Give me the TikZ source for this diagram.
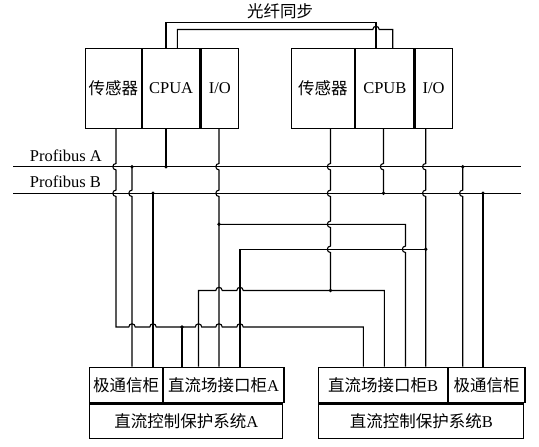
\documentclass[tikz,border=0pt]{standalone}
\usepackage{fontspec}
\setmainfont{Liberation Serif}
\newfontfamily\cjk{Noto Sans CJK SC}
\usepackage{tikz}
\usetikzlibrary{positioning,calc}
% wire crossings: vertical hop (bulges left), horizontal hop (bulges up)
\newcommand{\vhop}[2]{-- ($(#1|-#2)+(0,-3.2)$) arc[start angle=270,end angle=90,radius=3.2]}
\newcommand{\hhop}[2]{-- ($(#1|-#2)+(-3.2,0)$) arc[start angle=180,end angle=360,radius=3.2]}

\begin{document}
\begin{tikzpicture}[
    x=1pt, y=-1pt,
    line width=1.1pt,
    txt/.style={font=\fontsize{16.5}{19}\selectfont},
    cell/.style={draw, txt, inner sep=0pt, line width=1.1pt},
    topcell/.style={cell, minimum height=80pt},
    rowcell/.style={cell, minimum height=35.6pt},
    syscell/.style={cell, minimum height=34.2pt},
    dot/.style={circle, fill, inner sep=0pt, minimum size=3.8pt},
    wire/.style={line width=1.1pt}
]
\useasboundingbox (0,0) rectangle (539,447);
% wire columns and levels
\foreach \n/\x in {a1/116, a2/166, a3/219, p1/132, p2/153, d1/182, d2/198.5, d4/240,
                   b1/330.5, b2/383.5, b3/425.7, e1/363.3, e2/384.3, e3/405.5, q1/462.7, q2/483,
                   f1/166, f2/177.3, f3/376, f4/392.7}
  \coordinate (\n) at (\x,0);
\coordinate (paW) at (13,166.7);  \coordinate (paE) at (521,166.7);
\coordinate (pbW) at (13,193.3);  \coordinate (pbE) at (521,193.3);
\coordinate (h1) at (0,224.3);
\coordinate (h2) at (0,249.3);
\coordinate (h3) at (0,290.5);
\coordinate (h4) at (0,327);
\coordinate (fo) at (0,22.7);
\coordinate (fi) at (0,29.5);
% Station A
\node[topcell, minimum width=55.7pt, anchor=north west] (sensA) at (85,48) {\cjk 传感器};
\node[topcell, minimum width=57.6pt, right=0pt of sensA] (cpuA) {CPUA};
\node[topcell, minimum width=37.7pt, right=0pt of cpuA] (ioA) {I/O};
% Station B
\node[topcell, minimum width=63.3pt, anchor=north west] (sensB) at (290.7,48) {\cjk 传感器};
\node[topcell, minimum width=58.3pt, right=0pt of sensB] (cpuB) {CPUB};
\node[topcell, minimum width=37pt, right=0pt of cpuB] (ioB) {I/O};
% Fibre sync
\node[txt] (sync) at (280,11) {\cjk 光纤同步};
\draw[wire] (cpuA.north -| f1) -- (f1|-fo) -- (f3|-fo) -- (cpuB.north -| f3);
\draw[wire] (cpuA.north -| f2) -- (f2|-fi) \hhop{f3}{fi} -- (f4|-fi) -- (cpuB.north -| f4);
% Buses
\node[txt, anchor=west] (lblA) at (26,155.5) {Profibus A};
\node[txt, anchor=west] (lblB) at (26,182) {Profibus B};
\draw[wire] (paW) -- (paE);
\draw[wire] (pbW) -- (pbE);
% Control system A
\node[rowcell, minimum width=72.4pt, anchor=north west] (txA) at (89.3,366.7) {\cjk 极通信柜};
\node[rowcell, minimum width=120.6pt, right=0pt of txA] (jkA) {{\cjk 直流场接口柜}A};
\node[syscell, minimum width=193pt, anchor=north west] (sysA) at (txA.south west) {{\cjk 直流控制保护系统}A};
% Control system B
\node[rowcell, minimum width=128.4pt, anchor=north west] (jkB) at (318.3,366.7) {{\cjk 直流场接口柜}B};
\node[rowcell, minimum width=76.6pt, right=0pt of jkB] (txB) {\cjk 极通信柜};
\node[syscell, minimum width=205pt, anchor=north west] (sysB) at (jkB.south west) {{\cjk 直流控制保护系统}B};
% Wires from station A
\draw[wire] (sensA.south -| a1) \vhop{a1}{paW} \vhop{a1}{pbW} -- (a1|-h4)
  \hhop{p1}{h4} \hhop{p2}{h4} \hhop{d2}{h4} \hhop{a3}{h4} \hhop{d4}{h4} -- (e1|-h4) -- (jkB.north -| e1);
\draw[wire] (d1|-h4) -- (jkA.north -| d1);
\draw[wire] (cpuA.south -| a2) -- (a2|-paW);
\draw[wire] (ioA.south -| a3) \vhop{a3}{paW} \vhop{a3}{pbW} -- (jkA.north -| a3);
\draw[wire] (a3|-h1) -- (e3|-h1) \vhop{e3}{h2} -- (jkB.north -| e3);
\draw[wire] (jkA.north -| d4) -- (d4|-h2) -- (b3|-h2);
\draw[wire] (jkA.north -| d2) -- (d2|-h3) \hhop{a3}{h3} \hhop{d4}{h3} -- (e2|-h3) -- (jkB.north -| e2);
\draw[wire] (p1|-paW) \vhop{p1}{pbW} -- (txA.north -| p1);
\draw[wire] (p2|-pbW) -- (txA.north -| p2);
% Wires from station B
\draw[wire] (sensB.south -| b1) \vhop{b1}{paW} \vhop{b1}{pbW} \vhop{b1}{h1} \vhop{b1}{h2} -- (b1|-h3);
\draw[wire] (cpuB.south -| b2) \vhop{b2}{paW} -- (b2|-pbW);
\draw[wire] (ioB.south -| b3) \vhop{b3}{paW} \vhop{b3}{pbW} -- (jkB.north -| b3);
\draw[wire] (q1|-paW) \vhop{q1}{pbW} -- (txB.north -| q1);
\draw[wire] (q2|-pbW) -- (txB.north -| q2);
% Junctions
\foreach \p in {a2|-paW, p1|-paW, p2|-pbW, d1|-h4, a3|-h1, b1|-h3, b2|-pbW, b3|-h2, q1|-paW, q2|-pbW}
  \node[dot] at (\p) {};
\end{tikzpicture}
\end{document}
